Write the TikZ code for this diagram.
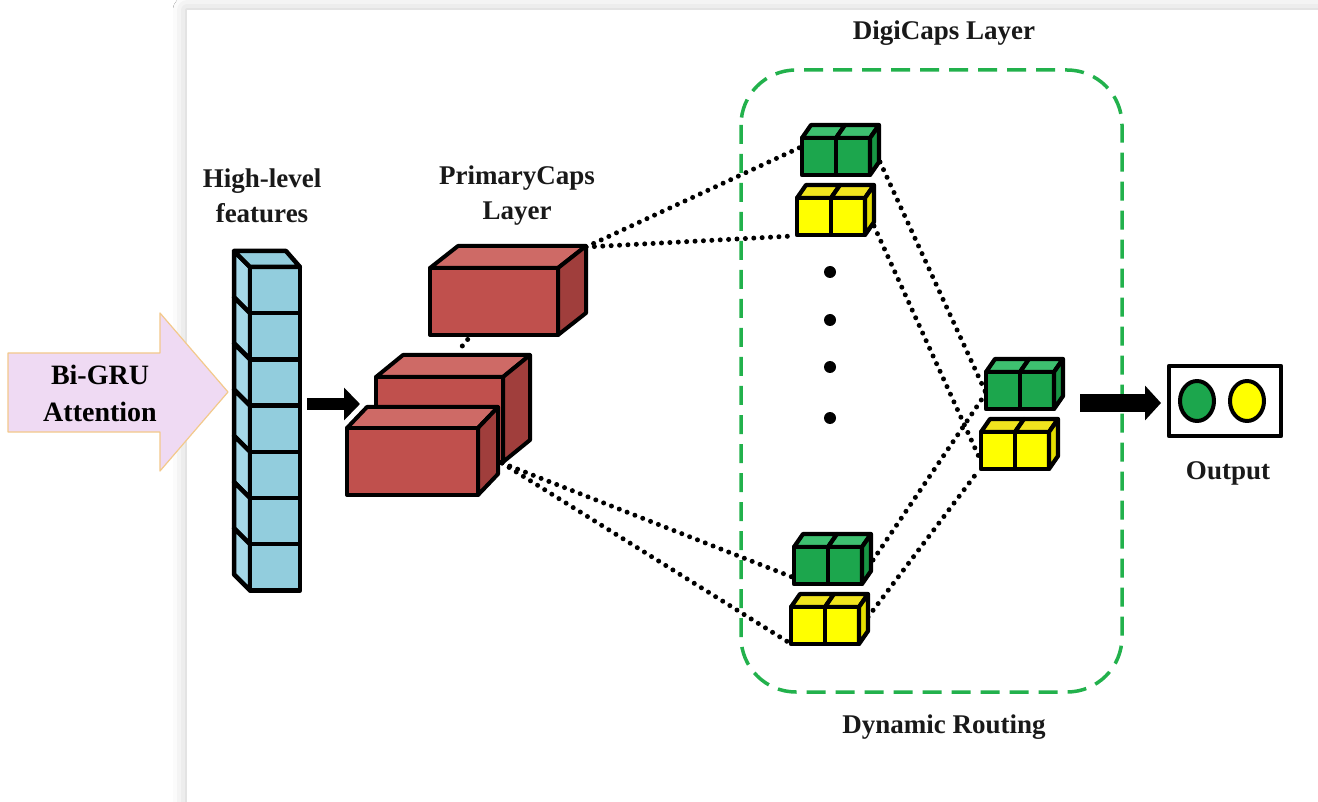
\documentclass[tikz,border=0pt]{standalone}
\usepackage{fontspec}
\setmainfont{Liberation Serif}
\usetikzlibrary{arrows.meta,shadows.blur}
\definecolor{txt}{RGB}{25,25,25}
\definecolor{pinkF}{RGB}{239,218,243}
\definecolor{pinkD}{RGB}{243,201,139}
\definecolor{blueF}{RGB}{146,205,221}
\definecolor{blueS}{RGB}{165,216,232}
\definecolor{redF}{RGB}{192,80,77}
\definecolor{redT}{RGB}{206,106,102}
\definecolor{redR}{RGB}{160,62,60}
\definecolor{grnF}{RGB}{28,166,77}
\definecolor{grnT}{RGB}{62,192,112}
\definecolor{grnR}{RGB}{24,150,68}
\definecolor{yelF}{RGB}{255,255,0}
\definecolor{yelT}{RGB}{240,228,30}
\definecolor{yelR}{RGB}{228,222,0}
\definecolor{dgreen}{RGB}{34,177,76}
% cuboid: front (x1,y1)-(x2,y2), depth (dx,dy), colour prefix
\newcommand\mycuboid[7]{%
  \filldraw[fill=#7T, edgeline] (#1,#2) -- ({#1+#5},{#2+#6}) -- ({#3+#5},{#2+#6}) -- (#3,#2) -- cycle;
  \filldraw[fill=#7R, edgeline] (#3,#2) -- ({#3+#5},{#2+#6}) -- ({#3+#5},{#4+#6}) -- (#3,#4) -- cycle;
  \filldraw[fill=#7F, edgeline] (#1,#2) rectangle (#3,#4);
}
% pair of small cubes: front top-left (x,y), colour prefix
\newcommand\mycubepair[3]{%
  \foreach \j in {0,1}{%
    \filldraw[fill=#3T, smalledge] ({#1+34*\j},#2) -- ({#1+34*\j+9},{#2-13}) -- ({#1+34*\j+43},{#2-13}) -- ({#1+34*\j+34},#2) -- cycle;
    \filldraw[fill=#3F, smalledge] ({#1+34*\j},#2) rectangle ({#1+34*\j+34},{#2+37});
  }
  \filldraw[fill=#3R, smalledge] ({#1+68},#2) -- ({#1+77},{#2-13}) -- ({#1+77},{#2+24}) -- ({#1+68},{#2+37}) -- cycle;
}
\begin{document}
\begin{tikzpicture}[x=1pt,y=-1pt,line join=round,
  lbl/.style={font=\bfseries\fontsize{27}{35}\selectfont, text=txt, align=center, inner sep=0pt},
  edgeline/.style={draw=black, line width=4pt},
  smalledge/.style={draw=black, line width=4.2pt},
  dotline/.style={draw=black, line width=5pt, dash pattern=on 0pt off 8.4pt, line cap=round},
  bigarrow/.style={draw=black, -{Triangle[length=16pt,width=32pt]}}]
\useasboundingbox (0,0) rectangle (1318,802);
\fill[white] (0,0) rectangle (1318,802);
% page with faint shadow
\path[fill=white, blur shadow={shadow xshift=0pt,shadow yshift=0pt,shadow blur radius=14pt,shadow opacity=22}] (187,10) rectangle (1360,840);

% texts
\node[lbl] (digi) at (944,33) {DigiCaps Layer};
\node[lbl] (high) at (262,196) {High-level\\features};
\node[lbl] (prim) at (517,196) {PrimaryCaps\\Layer};
\node[lbl] (outl) at (1228,473) {Output};
\node[lbl] (dyn) at (944,727) {Dynamic Routing};

% input arrow
\filldraw[fill=pinkF, draw=pinkD, line width=1.2pt] (8,353) -- (160,353) -- (160,313) -- (228,392) -- (160,471) -- (160,432) -- (8,432) -- cycle;
\node[lbl, text=black, font=\bfseries\fontsize{28}{37}\selectfont] (bigru) at (100,393) {Bi-GRU\\Attention};

% blue column
\foreach \i in {0,...,6}{%
  \pgfmathsetmacro\ya{267+46.2*\i}
  \pgfmathsetmacro\yb{267+46.2*(\i+1)}
  \filldraw[fill=blueS, edgeline, line width=4.5pt] (250,\ya) -- (234,{\ya-16}) -- (234,{\yb-16}) -- (250,\yb) -- cycle;
  \filldraw[fill=blueF, edgeline, line width=4.5pt] (250,\ya) rectangle (300,\yb);
}
\filldraw[fill=blueF, edgeline, line width=4.5pt] (250,267) -- (234,251) -- (286,251) -- (300,267) -- cycle;
\coordinate (colR) at (307,404);
\coordinate (capsL) at (360,404);
\draw[bigarrow, line width=12pt] (colR) -- (capsL);

% dotted links (under the boxes)
\coordinate (topBox) at (586,247);
\coordinate (frontBox) at (502,463);
\coordinate (tgL) at (801,147);
\coordinate (tyL) at (793,236);
\coordinate (bgL) at (792,577);
\coordinate (byL) at (788,642);
\coordinate (tgR) at (880,162);
\coordinate (tyR) at (874,226);
\coordinate (bgR) at (873,560);
\coordinate (byR) at (868,617);
\coordinate (rgL) at (986,393);
\coordinate (ryL) at (979,457);
\coordinate (ryL2) at (979,470);
\coordinate (mA) at (473,333);
\coordinate (mB) at (459,350);
\draw[dotline] (topBox) -- (tgL);
\draw[dotline] (topBox) -- (tyL);
\draw[dotline] (frontBox) -- (bgL);
\draw[dotline] (frontBox) -- (byL);
\draw[dotline] (tgR) -- (rgL);
\draw[dotline] (tyR) -- (ryL);
\draw[dotline] (bgR) -- (rgL);
\draw[dotline] (byR) -- (ryL2);
\draw[dotline] (mA) -- (mB);

% red boxes
\mycuboid{430}{268}{558}{335}{28}{-22}{red}
\mycuboid{376}{377}{503}{462}{27}{-22}{red}
\mycuboid{347}{428}{478}{495}{20}{-21}{red}

% digicaps container
\draw[dgreen, line width=3.5pt, dash pattern=on 19pt off 10pt, rounded corners=55pt] (741,70) rectangle (1122,692);

% cube pairs
\mycubepair{802}{138}{grn}
\mycubepair{797}{198}{yel}
\mycubepair{794}{547}{grn}
\mycubepair{791}{607}{yel}
\mycubepair{986}{372}{grn}
\mycubepair{981}{432}{yel}

% ellipsis dots
\foreach \yy in {272,320,367,418}{\fill[black] (830,\yy) circle (6pt);}

% output
\coordinate (dcR) at (1080,403);
\coordinate (outL) at (1161,403);
\draw[draw=black, line width=17pt, -{Triangle[length=16pt,width=34pt]}] (dcR) -- (outL);
\node[draw=black, line width=4.5pt, minimum width=112pt, minimum height=70pt, inner sep=0pt] (outbox) at (1225,401) {};
\filldraw[fill=grnF, draw=black, line width=4pt] (1197,401) ellipse (17pt and 20pt);
\filldraw[fill=yelF, draw=black, line width=4pt] (1247,401) ellipse (17pt and 20pt);
\end{tikzpicture}
\end{document}
